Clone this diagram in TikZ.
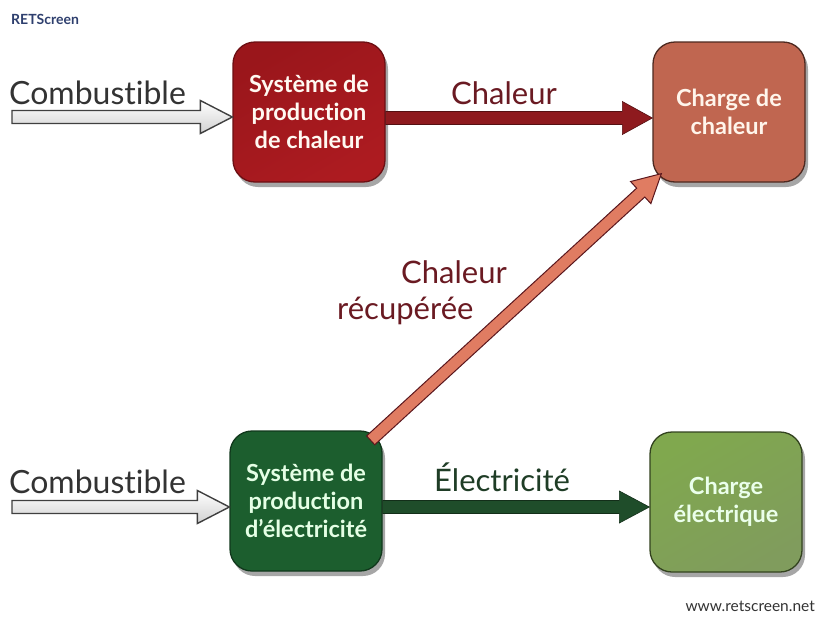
\documentclass[tikz,border=0pt]{standalone}
\usepackage{fontspec}
\setmainfont{Lato}[RawFeature={-liga,-dlig,-clig}]
\usetikzlibrary{calc,shadows}
\definecolor{hpdark}{HTML}{9A161B}
\definecolor{hpmid}{HTML}{D8272D}
\definecolor{hldark}{HTML}{C06650}
\definecolor{hlmid}{HTML}{E08A70}
\definecolor{epdark}{HTML}{1C5E2E}
\definecolor{epmid}{HTML}{348845}
\definecolor{eldark}{HTML}{80A84E}
\definecolor{elmid}{HTML}{ABC974}
\definecolor{maroon}{HTML}{6A1A22}
\definecolor{dgreen}{HTML}{1F3D26}
\definecolor{heatarrow}{HTML}{8E1A1E}
\definecolor{recarrow}{HTML}{E07C62}
\definecolor{elecarrow}{HTML}{1F4D2A}
\definecolor{rsblue}{HTML}{2E3F6E}
\newcommand\fatarrow[6][]{%
  \coordinate (fah) at ($(#3)!#6!(#2)$);
  \draw[#1] ($(#2)!#4!90:(#3)$) -- ($(fah)!#4!90:(#3)$) -- ($(fah)!#5!90:(#3)$)
    -- (#3) -- ($(fah)!#5!-90:(#3)$) -- ($(fah)!#4!-90:(#3)$) -- ($(#2)!#4!-90:(#3)$) -- cycle;
}
\tikzset{
  box/.style={rounded corners=22pt, minimum width=152pt, minimum height=140pt,
    line width=1.3pt, align=center, inner sep=2pt,
    font=\bfseries\fontsize{23.5}{28}\selectfont,
    drop shadow={shadow xshift=3pt, shadow yshift=-5pt, opacity=.35, fill=black}},
  flowlabel/.style={font=\fontsize{31}{33}\selectfont, inner sep=0pt},
  fuelarrow/.style={draw=black!75, line width=1.4pt, top color=white, bottom color=black!18},
}
\begin{document}
\begin{tikzpicture}[x=1pt,y=-1pt]
\useasboundingbox[fill=white] (0,0) rectangle (818,616);
% boxes
\node[box, draw=hpdark!70!black, left color=hpdark, middle color=hpmid, right color=hpdark!70!hpmid, shading angle=30, text=white!95!orange]
  (hp) at (309,112) {Système de\\production\\de chaleur};
\node[box, draw=hldark!40!black, left color=hldark, middle color=hlmid, right color=hldark, shading angle=30, text=white!92!orange]
  (hl) at (729,112) {Charge de\\chaleur};
\node[box, draw=epdark!60!black, left color=epdark, middle color=epmid, right color=epdark, shading angle=30, text=green!10!white]
  (ep) at (306,501) {Système de\\production\\d’électricité};
\node[box, draw=eldark!40!black, left color=eldark, middle color=elmid, right color=eldark!70!gray, shading angle=30, text=white!92!green]
  (el) at (726,502) {Charge\\électrique};
% free ends
\coordinate (f1) at (12,117);
\coordinate (f2) at (12,507);
% arrows
\fatarrow[fuelarrow]{f1}{hp.west |- f1}{6.5pt}{16.5pt}{32pt}
\fatarrow[fuelarrow]{f2}{ep.west |- f2}{6.5pt}{16.5pt}{32pt}
\coordinate (h1) at (0,118);
\fatarrow[fill=heatarrow, draw=heatarrow!60!black, line width=.6pt]{hp.east |- h1}{hl.west |- h1}{6.5pt}{16.5pt}{30pt}
\coordinate (e1) at (0,507);
\fatarrow[fill=elecarrow, draw=elecarrow!60!black, line width=.6pt]{ep.east |- e1}{el.west |- e1}{6.5pt}{16pt}{30pt}
\coordinate (rs) at ($(ep.north east)+(-12,10)$);
\coordinate (rt) at ($(hl.south west)+(9,-9)$);
\fatarrow[fill=recarrow, draw=maroon!85!black, line width=1pt]{rs}{rt}{6pt}{15pt}{28pt}
% labels
\node[flowlabel, text=black!80, anchor=base west, font=\fontsize{32}{34}\selectfont] (lc1) at (9,104) {Combustible};
\node[flowlabel, text=black!80, anchor=base west, font=\fontsize{32}{34}\selectfont] (lc2) at (9,493) {Combustible};
\node[flowlabel, text=maroon, anchor=base] (lch) at (504,104) {Chaleur};
\node[flowlabel, text=dgreen, anchor=base] (lel) at (502,491) {Électricité};
\node[flowlabel, text=maroon, anchor=north west, align=left, font=\fontsize{31}{36}\selectfont] (lrec) at (337,260)
  {\hspace*{64pt}Chaleur\\récupérée};
\node[anchor=base west, inner sep=0pt, text=rsblue, font=\bfseries\fontsize{14}{15}\selectfont] (rts) at (11,24) {RETScreen};
\node[anchor=base east, inner sep=0pt, text=black!80, font=\fontsize{15.5}{16}\selectfont] (url) at (815,611) {www.retscreen.net};
\end{tikzpicture}
\end{document}
